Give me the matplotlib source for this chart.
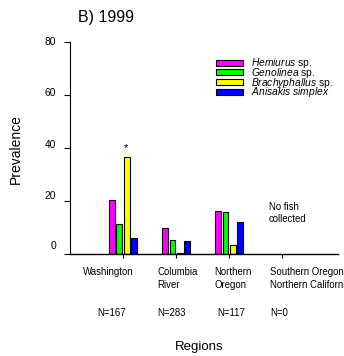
import matplotlib
matplotlib.use("Agg")
import matplotlib.pyplot as plt
import matplotlib.transforms as mtransforms
from matplotlib.patches import Patch
import numpy as np

plt.rcParams['font.family'] = ['Liberation Sans', 'DejaVu Sans']
plt.rcParams['mathtext.fontset'] = 'custom'
plt.rcParams['mathtext.rm'] = 'Liberation Sans'
plt.rcParams['mathtext.it'] = 'Liberation Sans:italic'

# data
regions = ["Washington", "Columbia\nRiver", "Northern\nOregon", "Southern Oregon-\nNorthern California"]
sample_sizes = ["N=167", "N=283", "N=117", "N=0"]
species = [r"$\it{Hemiurus}$ sp.", r"$\it{Genolinea}$ sp.",
           r"$\it{Brachyphallus}$ sp.", r"$\it{Anisakis\ simplex}$"]
colors = ["#ff00ff", "#00ff00", "#ffff00", "#0000ff"]
hemiurus = [20.5, 9.9, 16.3, 0]
genolinea = [11.2, 5.3, 15.8, 0]
brachyphallus = [36.6, 0.5, 3.4, 0]
anisakis = [6.0, 5.0, 12.0, 0]
values = [hemiurus, genolinea, brachyphallus, anisakis]
yticks = [0, 20, 40, 60, 80]

fig = plt.figure(figsize=(3.44, 3.56), dpi=100)
ax = fig.add_axes([0.2035, 0.2865, 0.779, 0.5955])

x = np.arange(1, len(regions) + 1)
pitch, width = 0.14, 0.11
for i, (vals, col) in enumerate(zip(values, colors)):
    xs = x[:3] + (i - 1.5) * pitch
    ax.bar(xs, vals[:3], width=width, color=col, edgecolor='black', linewidth=0.8)

ax.set_xlim(0, 5.05)
ax.set_ylim(0, 80)
ax.set_yticks(yticks)
ax.set_xticks(x)
ax.set_xticklabels([])
ax.tick_params(axis='y', labelsize=7.4, length=4, width=0.8, pad=6)
ax.tick_params(axis='x', length=3, width=0.8)
# tick labels in the original sit a little above their ticks, more so near 0
for lab, dy in zip(ax.get_yticklabels(), [6.5, 4.5, 3.2, 2.2, 1.0]):
    off = mtransforms.ScaledTranslation(0, dy / 72, fig.dpi_scale_trans)
    lab.set_transform(lab.get_transform() + off)
for s in ['top', 'right']:
    ax.spines[s].set_visible(False)
ax.spines['left'].set_linewidth(0.8)
ax.spines['bottom'].set_linewidth(1.0)

# region labels and sample sizes under the axis
label_x = [0.24, 1.65, 2.72, 3.77]
n_x = [0.51, 1.65, 2.78, 3.77]
for lx, nx, reg, n in zip(label_x, n_x, regions, sample_sizes):
    ax.text(lx, -5.0, reg, ha='left', va='top', fontsize=6.9,
            linespacing=1.35, clip_on=False)
    ax.text(nx, -22.3, n, ha='left', va='center', fontsize=6.9, clip_on=False)

ax.text(1.05, 40.0, "*", ha='center', va='center', fontsize=8)
ax.text(3.75, 15.5, "No fish\ncollected", ha='left', va='center', fontsize=6.9,
        linespacing=1.3)

fig.text(0.227, 0.95, "B) 1999", fontsize=11.5, ha='left', va='center')
fig.text(0.045, 0.58, "Prevalence", rotation=90, fontsize=10, ha='center', va='center')
fig.text(0.58, 0.025, "Regions", fontsize=9.5, ha='center', va='center')

handles = [Patch(facecolor=c, edgecolor='black', linewidth=0.8) for c in colors]
fig.legend(handles, species, loc='upper left', bbox_to_anchor=(0.627, 0.842),
           frameon=False, fontsize=7.4, handlelength=2.7, handleheight=0.55,
           handletextpad=0.75, labelspacing=-0.42, borderpad=0, borderaxespad=0)

fig.savefig("out.png", dpi=100)
